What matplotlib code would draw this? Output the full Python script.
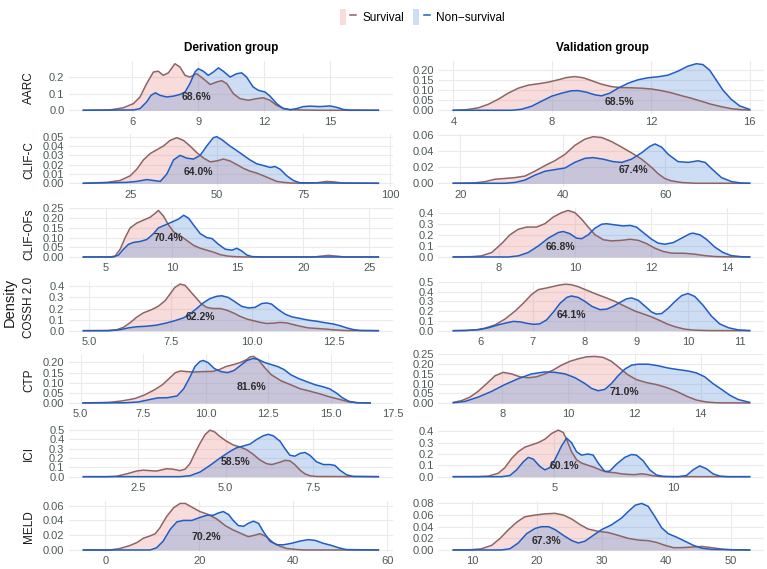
import matplotlib
matplotlib.use("Agg")
import matplotlib.pyplot as plt
from matplotlib.patches import Patch
from matplotlib.lines import Line2D
from matplotlib.legend_handler import HandlerTuple

plt.rcParams['font.family'] = ['Liberation Sans', 'DejaVu Sans']

# density curves: *_d_* = derivation group, *_v_* = validation group
# ---- AARC
aarc_d_surv_x = [3.77, 4.98, 5.59, 6.05, 6.35, 6.65, 6.96, 7.18, 7.41, 7.64, 7.94, 8.17, 8.4, 8.62, 8.93, 9.23, 9.54, 9.84, 10.07, 10.3, 10.6, 10.9, 11.28, 11.66, 11.96, 12.27, 12.57, 12.87, 13.18, 13.63, 14.5, 17.2]
aarc_d_surv_y = [0, 0.002, 0.015, 0.04, 0.08, 0.16, 0.23, 0.235, 0.21, 0.225, 0.28, 0.26, 0.21, 0.2, 0.22, 0.19, 0.155, 0.17, 0.178, 0.16, 0.1, 0.07, 0.06, 0.07, 0.075, 0.06, 0.03, 0.012, 0.004, 0.002, 0, 0]
aarc_d_non_x = [3.77, 6.05, 6.35, 6.65, 6.85, 7.05, 7.26, 7.56, 7.87, 8.17, 8.4, 8.62, 8.85, 9.0, 9.23, 9.46, 9.69, 9.92, 10.14, 10.45, 10.75, 10.98, 11.2, 11.5, 11.74, 12.04, 12.27, 12.57, 12.87, 13.18, 13.48, 13.78, 14.09, 14.54, 15.0, 15.3, 15.6, 15.9, 17.2]
aarc_d_non_y = [0, 0.002, 0.01, 0.05, 0.09, 0.105, 0.09, 0.08, 0.085, 0.095, 0.11, 0.16, 0.23, 0.25, 0.235, 0.21, 0.23, 0.255, 0.235, 0.2, 0.22, 0.225, 0.2, 0.14, 0.12, 0.11, 0.085, 0.04, 0.01, 0.003, 0.01, 0.022, 0.025, 0.022, 0.026, 0.018, 0.005, 0.001, 0]
aarc_v_surv_x = [4.0, 4.54, 5.01, 5.42, 5.82, 6.22, 6.63, 7.03, 7.44, 7.84, 8.25, 8.58, 8.92, 9.26, 9.59, 10.0, 10.4, 10.8, 11.21, 11.61, 12.02, 12.42, 12.83, 13.23, 13.64, 14.04, 14.44, 14.85, 15.25, 15.66, 16.0]
aarc_v_surv_y = [0, 0.003, 0.012, 0.03, 0.055, 0.085, 0.11, 0.125, 0.132, 0.14, 0.152, 0.163, 0.168, 0.162, 0.148, 0.13, 0.118, 0.113, 0.112, 0.11, 0.106, 0.098, 0.087, 0.073, 0.06, 0.045, 0.03, 0.018, 0.008, 0.003, 0.001]
aarc_v_non_x = [4.0, 6.36, 6.76, 7.17, 7.57, 7.98, 8.38, 8.78, 9.05, 9.39, 9.73, 10.0, 10.33, 10.67, 11.08, 11.48, 11.88, 12.29, 12.69, 13.1, 13.5, 13.84, 14.1, 14.38, 14.65, 14.92, 15.25, 15.59, 16.0]
aarc_v_non_y = [0, 0, 0.005, 0.02, 0.045, 0.07, 0.085, 0.097, 0.098, 0.09, 0.077, 0.072, 0.085, 0.11, 0.135, 0.152, 0.162, 0.167, 0.175, 0.195, 0.22, 0.232, 0.228, 0.2, 0.15, 0.1, 0.055, 0.022, 0.004]

# ---- CLIF-C
clifc_d_surv_x = [11.5, 18.3, 22.1, 25, 26.9, 28.8, 30.8, 32.7, 34.6, 36.5, 38.5, 40.4, 42.3, 44.2, 46.2, 48.1, 50, 51.9, 53.8, 55.8, 57.7, 59.6, 61.5, 63.5, 65.4, 67.3, 69.2, 71.2, 76, 78.8, 81.7, 83.7, 86.5, 96.6]
clifc_d_surv_y = [0, 0.001, 0.003, 0.008, 0.015, 0.025, 0.032, 0.036, 0.04, 0.046, 0.049, 0.046, 0.04, 0.033, 0.027, 0.023, 0.024, 0.026, 0.024, 0.02, 0.016, 0.013, 0.011, 0.008, 0.005, 0.002, 0.001, 0.0003, 0, 0.0005, 0.002, 0.0015, 0.0002, 0]
clifc_d_non_x = [11.5, 24, 26.9, 29.8, 31.7, 33.7, 35.6, 37.5, 39.4, 41.3, 43.3, 45.2, 47.1, 49, 50, 51.4, 53.8, 55.8, 57.7, 59.6, 61.5, 63.5, 65.4, 66.8, 68.3, 70.2, 72.1, 74, 96.6]
clifc_d_non_y = [0, 0.001, 0.002, 0.004, 0.003, 0.002, 0.01, 0.025, 0.03, 0.027, 0.026, 0.03, 0.04, 0.049, 0.05, 0.047, 0.04, 0.035, 0.03, 0.025, 0.021, 0.019, 0.017, 0.018, 0.015, 0.008, 0.003, 0.0005, 0]
clifc_v_surv_x = [18.6, 22.8, 24.8, 26.7, 28.7, 30.6, 32.6, 34.5, 36.5, 38.4, 40.4, 42.3, 44.3, 45.9, 47.6, 49.5, 51.5, 53.4, 55.4, 57.3, 58.6, 59.9, 61.2, 63.2, 65.8, 76.5]
clifc_v_surv_y = [0, 0.0005, 0.002, 0.005, 0.006, 0.007, 0.009, 0.015, 0.022, 0.028, 0.036, 0.047, 0.055, 0.058, 0.057, 0.052, 0.045, 0.038, 0.03, 0.02, 0.012, 0.006, 0.003, 0.001, 0, 0]
clifc_v_non_x = [18.6, 28.7, 30.6, 32.6, 34.5, 36.5, 38.4, 40.4, 42.3, 44.3, 45.9, 47.9, 49.8, 51.5, 53.4, 55.4, 57, 58, 59.3, 60.6, 62.5, 64.5, 66.4, 67.8, 69.1, 71, 73, 74.9, 76.5]
clifc_v_non_y = [0, 0, 0.001, 0.004, 0.01, 0.015, 0.017, 0.019, 0.026, 0.031, 0.032, 0.03, 0.027, 0.026, 0.03, 0.038, 0.046, 0.049, 0.045, 0.036, 0.027, 0.026, 0.028, 0.026, 0.018, 0.007, 0.002, 0.0003, 0]

# ---- CLIF-OFs
clifof_d_surv_x = [3.27, 5.3, 5.69, 6.07, 6.45, 6.83, 7.34, 7.84, 8.35, 8.73, 8.98, 9.37, 9.75, 10.13, 10.63, 11.14, 11.65, 12.16, 12.66, 13.17, 13.68, 14.19, 14.7, 15.46, 20.8, 21.3, 21.9, 22.6, 23.1, 25.7]
clifof_d_surv_y = [0, 0, 0.005, 0.04, 0.1, 0.15, 0.175, 0.19, 0.205, 0.225, 0.24, 0.21, 0.165, 0.13, 0.11, 0.085, 0.06, 0.045, 0.035, 0.025, 0.012, 0.005, 0.002, 0, 0, 0.004, 0.008, 0.004, 0, 0]
clifof_d_non_x = [3.27, 5.56, 5.94, 6.32, 6.7, 7.08, 7.59, 8.1, 8.6, 8.98, 9.49, 10.0, 10.5, 10.9, 11.27, 11.65, 12.16, 12.66, 13.05, 13.55, 14.06, 14.57, 14.95, 15.33, 15.7, 16.1, 16.8, 25.7]
clifof_d_non_y = [0, 0, 0.01, 0.04, 0.065, 0.075, 0.08, 0.09, 0.12, 0.15, 0.165, 0.18, 0.195, 0.215, 0.2, 0.165, 0.12, 0.1, 0.095, 0.065, 0.04, 0.035, 0.045, 0.03, 0.01, 0.002, 0, 0]
clifof_v_surv_x = [6.8, 7.28, 7.54, 7.81, 8.07, 8.29, 8.51, 8.73, 8.99, 9.21, 9.43, 9.65, 9.82, 10.0, 10.18, 10.35, 10.53, 10.75, 10.96, 11.23, 11.45, 11.67, 11.89, 12.1, 12.32, 12.54, 12.9, 13.16, 13.42, 13.68, 14.04, 14.6]
clifof_v_surv_y = [0, 0.003, 0.01, 0.04, 0.12, 0.2, 0.25, 0.27, 0.27, 0.3, 0.36, 0.4, 0.42, 0.4, 0.34, 0.27, 0.2, 0.155, 0.145, 0.15, 0.16, 0.15, 0.12, 0.08, 0.05, 0.035, 0.033, 0.025, 0.012, 0.004, 0.001, 0]
clifof_v_non_x = [6.8, 8.25, 8.51, 8.77, 9.04, 9.3, 9.56, 9.69, 9.87, 10.04, 10.18, 10.35, 10.53, 10.7, 10.83, 11.05, 11.27, 11.45, 11.62, 11.8, 12.02, 12.19, 12.37, 12.59, 12.81, 13.03, 13.11, 13.29, 13.46, 13.68, 13.9, 14.12, 14.39, 14.6]
clifof_v_non_y = [0, 0, 0.01, 0.04, 0.1, 0.17, 0.22, 0.23, 0.21, 0.17, 0.165, 0.2, 0.26, 0.295, 0.3, 0.29, 0.28, 0.285, 0.27, 0.22, 0.16, 0.125, 0.115, 0.13, 0.17, 0.21, 0.215, 0.2, 0.16, 0.09, 0.04, 0.012, 0.002, 0]

# ---- COSSH 2.0
cossh_d_surv_x = [4.82, 5.53, 5.84, 6.05, 6.25, 6.45, 6.66, 6.92, 7.12, 7.33, 7.48, 7.63, 7.79, 7.94, 8.09, 8.3, 8.45, 8.61, 8.81, 9.02, 9.22, 9.43, 9.63, 9.84, 10.04, 10.25, 10.45, 10.66, 10.86, 11.07, 11.27, 11.48, 11.73, 11.99, 12.24, 12.5, 12.8, 13.11, 13.88]
cossh_d_surv_y = [0, 0.001, 0.008, 0.03, 0.07, 0.12, 0.16, 0.19, 0.22, 0.27, 0.33, 0.39, 0.42, 0.41, 0.36, 0.29, 0.24, 0.21, 0.2, 0.2, 0.185, 0.16, 0.13, 0.105, 0.09, 0.075, 0.065, 0.068, 0.075, 0.07, 0.055, 0.04, 0.025, 0.02, 0.015, 0.008, 0.002, 0.0005, 0]
cossh_d_non_x = [4.82, 5.64, 5.94, 6.2, 6.45, 6.76, 7.07, 7.38, 7.63, 7.89, 8.09, 8.3, 8.5, 8.71, 8.91, 9.07, 9.27, 9.48, 9.68, 9.89, 10.09, 10.3, 10.45, 10.6, 10.81, 11.01, 11.22, 11.48, 11.73, 11.99, 12.24, 12.5, 12.7, 12.91, 13.11, 13.32, 13.88]
cossh_d_non_y = [0, 0, 0.008, 0.025, 0.035, 0.04, 0.05, 0.07, 0.09, 0.115, 0.15, 0.2, 0.25, 0.29, 0.31, 0.315, 0.3, 0.26, 0.22, 0.205, 0.21, 0.245, 0.25, 0.24, 0.19, 0.15, 0.125, 0.11, 0.095, 0.085, 0.072, 0.06, 0.045, 0.025, 0.01, 0.002, 0]
cossh_v_surv_x = [5.47, 5.73, 5.92, 6.08, 6.28, 6.47, 6.66, 6.82, 6.98, 7.11, 7.3, 7.5, 7.63, 7.75, 7.88, 8.04, 8.2, 8.4, 8.59, 8.78, 8.98, 9.17, 9.3, 9.43, 9.59, 9.75, 9.94, 10.13, 10.39, 11.19]
cossh_v_surv_y = [0, 0.003, 0.01, 0.025, 0.06, 0.12, 0.2, 0.28, 0.37, 0.42, 0.44, 0.465, 0.475, 0.47, 0.45, 0.415, 0.38, 0.34, 0.3, 0.25, 0.2, 0.165, 0.14, 0.11, 0.07, 0.04, 0.015, 0.005, 0.001, 0]
cossh_v_non_x = [5.47, 5.73, 5.96, 6.15, 6.34, 6.5, 6.63, 6.76, 6.89, 7.02, 7.14, 7.27, 7.4, 7.53, 7.66, 7.75, 7.88, 8.01, 8.14, 8.3, 8.43, 8.56, 8.69, 8.81, 8.91, 9.04, 9.17, 9.3, 9.39, 9.49, 9.62, 9.75, 9.88, 10.0, 10.13, 10.29, 10.45, 10.61, 10.78, 10.97, 11.19]
cossh_v_non_y = [0, 0.002, 0.01, 0.03, 0.06, 0.08, 0.095, 0.09, 0.075, 0.065, 0.07, 0.11, 0.19, 0.28, 0.34, 0.355, 0.34, 0.3, 0.25, 0.215, 0.22, 0.25, 0.29, 0.325, 0.335, 0.31, 0.25, 0.19, 0.17, 0.175, 0.23, 0.3, 0.36, 0.38, 0.35, 0.26, 0.15, 0.07, 0.03, 0.008, 0.001]

# ---- CTP
ctp_d_surv_x = [5.09, 6.13, 6.65, 7.17, 7.56, 7.95, 8.27, 8.53, 8.79, 8.99, 9.25, 9.51, 9.9, 10.29, 10.55, 10.81, 11.13, 11.39, 11.65, 11.78, 11.91, 12.1, 12.36, 12.62, 13.01, 13.4, 13.79, 14.18, 14.57, 14.96, 15.35, 15.74, 16.13, 16.58]
ctp_d_surv_y = [0, 0.003, 0.01, 0.022, 0.04, 0.065, 0.09, 0.12, 0.15, 0.158, 0.155, 0.153, 0.155, 0.156, 0.165, 0.18, 0.19, 0.2, 0.215, 0.228, 0.23, 0.215, 0.175, 0.14, 0.11, 0.09, 0.07, 0.058, 0.045, 0.03, 0.018, 0.005, 0.001, 0]
ctp_d_non_x = [5.09, 6.78, 7.3, 7.69, 8.08, 8.47, 8.86, 9.12, 9.38, 9.57, 9.77, 9.9, 10.09, 10.35, 10.61, 10.87, 11.13, 11.39, 11.65, 11.91, 12.1, 12.36, 12.62, 12.88, 13.14, 13.4, 13.73, 14.05, 14.38, 14.7, 14.96, 15.22, 15.48, 15.74, 16.06, 16.58]
ctp_d_non_y = [0, 0.001, 0.005, 0.015, 0.025, 0.026, 0.035, 0.07, 0.13, 0.18, 0.205, 0.21, 0.2, 0.17, 0.155, 0.15, 0.16, 0.185, 0.21, 0.22, 0.215, 0.2, 0.19, 0.18, 0.165, 0.14, 0.12, 0.105, 0.09, 0.08, 0.07, 0.05, 0.025, 0.008, 0.001, 0]
ctp_v_surv_x = [6.52, 6.77, 7.02, 7.27, 7.53, 7.78, 8.03, 8.28, 8.53, 8.79, 9.04, 9.29, 9.54, 9.79, 10.05, 10.3, 10.55, 10.8, 11.05, 11.3, 11.55, 11.8, 12.06, 12.36, 12.66, 12.96, 13.27, 13.57, 13.87, 14.17, 14.48, 15.48]
ctp_v_surv_y = [0.003, 0.012, 0.03, 0.06, 0.1, 0.14, 0.158, 0.15, 0.135, 0.13, 0.135, 0.15, 0.17, 0.195, 0.215, 0.228, 0.238, 0.24, 0.235, 0.215, 0.18, 0.145, 0.12, 0.105, 0.095, 0.08, 0.06, 0.035, 0.015, 0.005, 0.001, 0]
ctp_v_non_x = [6.52, 6.87, 7.27, 7.68, 8.08, 8.48, 8.89, 9.29, 9.59, 9.9, 10.2, 10.5, 10.7, 10.9, 11.1, 11.3, 11.5, 11.71, 11.91, 12.11, 12.41, 12.71, 13.02, 13.32, 13.62, 13.87, 14.12, 14.37, 14.63, 14.88, 15.13, 15.48]
ctp_v_non_y = [0.001, 0.008, 0.03, 0.06, 0.095, 0.125, 0.15, 0.16, 0.158, 0.15, 0.13, 0.1, 0.075, 0.063, 0.07, 0.1, 0.14, 0.175, 0.195, 0.2, 0.2, 0.192, 0.18, 0.172, 0.165, 0.155, 0.135, 0.1, 0.07, 0.04, 0.018, 0.003]

# ---- ICI
ici_d_surv_x = [0.93, 1.59, 1.88, 2.17, 2.45, 2.64, 2.83, 3.02, 3.31, 3.5, 3.69, 3.84, 3.98, 4.12, 4.27, 4.41, 4.55, 4.69, 4.84, 5.03, 5.22, 5.41, 5.6, 5.79, 5.98, 6.17, 6.32, 6.51, 6.7, 6.84, 6.98, 7.13, 7.27, 7.41, 7.6, 9.37]
ici_d_surv_y = [0, 0, 0.005, 0.03, 0.06, 0.07, 0.065, 0.06, 0.085, 0.08, 0.065, 0.08, 0.14, 0.25, 0.36, 0.45, 0.5, 0.48, 0.43, 0.38, 0.34, 0.32, 0.29, 0.24, 0.18, 0.14, 0.13, 0.15, 0.175, 0.17, 0.13, 0.07, 0.03, 0.01, 0.002, 0]
ici_d_non_x = [0.93, 3.69, 3.98, 4.27, 4.55, 4.84, 5.12, 5.31, 5.51, 5.7, 5.89, 6.08, 6.22, 6.36, 6.56, 6.7, 6.84, 6.98, 7.13, 7.27, 7.41, 7.6, 7.8, 7.99, 8.13, 8.27, 8.46, 8.65, 9.37]
ici_d_non_y = [0, 0, 0.01, 0.05, 0.12, 0.2, 0.27, 0.31, 0.33, 0.35, 0.4, 0.44, 0.455, 0.44, 0.38, 0.3, 0.23, 0.22, 0.25, 0.26, 0.23, 0.16, 0.13, 0.13, 0.12, 0.07, 0.02, 0.003, 0]
ici_v_surv_x = [0.76, 1.81, 2.23, 2.65, 2.93, 3.21, 3.49, 3.77, 4.05, 4.33, 4.61, 4.89, 5.17, 5.38, 5.52, 5.73, 5.94, 6.15, 6.43, 6.71, 6.99, 7.27, 7.55, 7.83, 8.11, 8.39, 8.67, 8.88, 9.16, 9.44, 9.93, 13.22]
ici_v_surv_y = [0, 0.001, 0.005, 0.03, 0.08, 0.16, 0.22, 0.26, 0.28, 0.3, 0.33, 0.38, 0.41, 0.39, 0.33, 0.22, 0.15, 0.12, 0.1, 0.08, 0.055, 0.04, 0.035, 0.025, 0.02, 0.018, 0.025, 0.02, 0.008, 0.002, 0, 0]
ici_v_non_x = [0.76, 2.79, 3.14, 3.42, 3.7, 3.91, 4.12, 4.4, 4.61, 4.82, 5.03, 5.31, 5.52, 5.73, 5.94, 6.15, 6.43, 6.64, 6.85, 7.13, 7.34, 7.62, 7.97, 8.25, 8.46, 8.74, 9.02, 9.3, 9.58, 10.21, 10.56, 10.84, 11.12, 11.4, 11.68, 11.96, 12.31, 13.22]
ici_v_non_y = [0, 0, 0.01, 0.06, 0.13, 0.17, 0.155, 0.09, 0.06, 0.08, 0.15, 0.27, 0.34, 0.3, 0.22, 0.19, 0.2, 0.19, 0.12, 0.045, 0.05, 0.11, 0.17, 0.195, 0.19, 0.14, 0.06, 0.015, 0.002, 0, 0.01, 0.06, 0.095, 0.07, 0.025, 0.005, 0, 0]

# ---- MELD
meld_d_surv_x = [-4.7, 1, 3.1, 5.2, 6.7, 8.1, 9.5, 10.6, 11.6, 13, 14.5, 15.9, 17, 18.4, 20.1, 21.9, 23.7, 25.5, 27.2, 29, 30.4, 31.8, 32.9, 34.3, 35.7, 37.2, 38.6, 40, 42.1, 58.1]
meld_d_surv_y = [0, 0, 0.002, 0.006, 0.01, 0.016, 0.019, 0.022, 0.03, 0.045, 0.057, 0.063, 0.063, 0.058, 0.052, 0.048, 0.042, 0.033, 0.027, 0.022, 0.018, 0.02, 0.022, 0.018, 0.01, 0.005, 0.002, 0.001, 0, 0]
meld_d_non_x = [-4.7, 9.5, 10.9, 12.3, 13.8, 15.2, 16.6, 18.4, 20.1, 21.6, 23, 24, 25.1, 26.2, 27.2, 28.3, 29.4, 30.4, 31.5, 32.6, 33.6, 35, 36.5, 37.9, 39.6, 41.4, 43.2, 44.6, 46.4, 48.2, 49.6, 51.3, 58.1]
meld_d_non_y = [0, 0, 0.003, 0.012, 0.028, 0.038, 0.04, 0.04, 0.044, 0.047, 0.047, 0.05, 0.052, 0.048, 0.04, 0.033, 0.032, 0.036, 0.039, 0.036, 0.025, 0.012, 0.007, 0.007, 0.009, 0.012, 0.014, 0.013, 0.009, 0.006, 0.003, 0.0005, 0]
meld_v_surv_x = [7.06, 9.9, 11.4, 13.0, 14.3, 15.6, 16.9, 18.1, 19.7, 21.2, 22.8, 24.1, 25.4, 26.6, 27.9, 29.5, 31.0, 32.6, 34.1, 35.7, 37.2, 38.5, 39.8, 41.1, 42.4, 43.9, 45.5, 47.0, 48.6, 50.1, 52.9]
meld_v_surv_y = [0, 0.0005, 0.002, 0.008, 0.02, 0.035, 0.048, 0.057, 0.06, 0.062, 0.063, 0.06, 0.053, 0.044, 0.036, 0.032, 0.03, 0.025, 0.02, 0.017, 0.016, 0.013, 0.008, 0.004, 0.004, 0.005, 0.006, 0.004, 0.0015, 0.0003, 0]
meld_v_non_x = [7.06, 14.5, 15.8, 17.1, 18.4, 19.7, 20.7, 21.8, 22.8, 24.1, 25.4, 26.4, 27.4, 28.7, 30.0, 31.5, 33.1, 34.1, 35.2, 36.2, 37.2, 38.2, 39.3, 40.3, 41.6, 42.9, 44.2, 45.5, 47.0, 52.9]
meld_v_non_y = [0, 0, 0.002, 0.012, 0.028, 0.037, 0.04, 0.04, 0.035, 0.025, 0.016, 0.012, 0.015, 0.025, 0.035, 0.043, 0.055, 0.066, 0.077, 0.08, 0.075, 0.058, 0.038, 0.028, 0.022, 0.015, 0.008, 0.003, 0.001, 0]

# labels, percentages and where they sit (data coords)
row_names = ["AARC", "CLIF-C", "CLIF-OFs", "COSSH 2.0", "CTP", "ICI", "MELD"]
pct_d = ["68.6%", "64.0%", "70.4%", "62.2%", "81.6%", "58.5%", "70.2%"]
pct_v = ["68.5%", "67.4%", "66.8%", "64.1%", "71.0%", "60.1%", "67.3%"]
pct_d_pos = [(8.93, 0.082), (44.7, 0.0123), (9.75, 0.097), (8.4, 0.119), (11.82, 0.079), (5.27, 0.158), (21.4, 0.018)]
pct_v_pos = [(10.74, 0.043), (53.7, 0.016), (9.62, 0.091), (7.75, 0.158), (11.7, 0.056), (5.45, 0.093), (21.5, 0.0146)]

xticks_d = [[6, 9, 12, 15], [25, 50, 75, 100], [5, 10, 15, 20, 25], [5.0, 7.5, 10.0, 12.5],
            [5.0, 7.5, 10.0, 12.5, 15.0, 17.5], [2.5, 5.0, 7.5], [0, 20, 40, 60]]
xdec_d = [0, 0, 0, 1, 1, 1, 0]
yticks_d = [[0, 0.1, 0.2], [0, 0.01, 0.02, 0.03, 0.04, 0.05], [0, 0.05, 0.10, 0.15, 0.20, 0.25],
            [0, 0.1, 0.2, 0.3, 0.4], [0, 0.05, 0.10, 0.15, 0.20], [0, 0.1, 0.2, 0.3, 0.4, 0.5],
            [0, 0.02, 0.04, 0.06]]
ydec_d = [1, 2, 2, 1, 2, 1, 2]
xticks_v = [[4, 8, 12, 16], [20, 40, 60], [8, 10, 12, 14], [6, 7, 8, 9, 10, 11],
            [8, 10, 12, 14], [5, 10], [10, 20, 30, 40, 50]]
yticks_v = [[0, 0.05, 0.10, 0.15, 0.20], [0, 0.02, 0.04, 0.06], [0, 0.1, 0.2, 0.3, 0.4],
            [0, 0.1, 0.2, 0.3, 0.4, 0.5], [0, 0.05, 0.10, 0.15, 0.20, 0.25],
            [0, 0.1, 0.2, 0.3, 0.4], [0, 0.02, 0.04, 0.06, 0.08]]
ydec_v = [2, 2, 1, 1, 2, 1, 2]

curves_d = [
    (aarc_d_surv_x, aarc_d_surv_y, aarc_d_non_x, aarc_d_non_y),
    (clifc_d_surv_x, clifc_d_surv_y, clifc_d_non_x, clifc_d_non_y),
    (clifof_d_surv_x, clifof_d_surv_y, clifof_d_non_x, clifof_d_non_y),
    (cossh_d_surv_x, cossh_d_surv_y, cossh_d_non_x, cossh_d_non_y),
    (ctp_d_surv_x, ctp_d_surv_y, ctp_d_non_x, ctp_d_non_y),
    (ici_d_surv_x, ici_d_surv_y, ici_d_non_x, ici_d_non_y),
    (meld_d_surv_x, meld_d_surv_y, meld_d_non_x, meld_d_non_y),
]
curves_v = [
    (aarc_v_surv_x, aarc_v_surv_y, aarc_v_non_x, aarc_v_non_y),
    (clifc_v_surv_x, clifc_v_surv_y, clifc_v_non_x, clifc_v_non_y),
    (clifof_v_surv_x, clifof_v_surv_y, clifof_v_non_x, clifof_v_non_y),
    (cossh_v_surv_x, cossh_v_surv_y, cossh_v_non_x, cossh_v_non_y),
    (ctp_v_surv_x, ctp_v_surv_y, ctp_v_non_x, ctp_v_non_y),
    (ici_v_surv_x, ici_v_surv_y, ici_v_non_x, ici_v_non_y),
    (meld_v_surv_x, meld_v_surv_y, meld_v_non_x, meld_v_non_y),
]

surv_fill, surv_line = "#E88A8A", "#8E6363"
non_fill, non_line = "#5B8FD9", "#1F5CC4"
tick_col = "#4D5858"

W, H = 767, 569
fig = plt.figure(figsize=(W / 100, H / 100), dpi=100)

baselines = [110.3, 183.3, 257.0, 330.7, 403.0, 476.7, 550.0]  # pixel row of y=0
panel_h = 51.2
cols = [(68.6, 324.5), (438.5, 326.0)]


def draw_panel(ax, curves, xt, xdec, yt, ydec, pct, pos):
    sx, sy, nx, ny = curves
    ax.fill_between(sx, sy, color=surv_fill, alpha=0.3, lw=0)
    ax.plot(sx, sy, color=surv_line, lw=1.1)
    ax.fill_between(nx, ny, color=non_fill, alpha=0.3, lw=0)
    ax.plot(nx, ny, color=non_line, lw=1.1)
    lo, hi = min(sx[0], nx[0]), max(sx[-1], nx[-1])
    ax.set_xlim(lo - 0.05 * (hi - lo), hi + 0.05 * (hi - lo))
    m = max(max(sy), max(ny))
    ax.set_ylim(-0.05 * m, 1.05 * m)
    ax.set_xticks(xt)
    ax.set_xticklabels([f"{v:.{xdec}f}" for v in xt])
    ax.set_yticks(yt)
    ax.set_yticklabels([f"{v:.{ydec}f}" for v in yt])
    ax.tick_params(length=0, labelsize=8, colors=tick_col, pad=3)
    ax.grid(color="#EBEBEB", lw=0.8)
    ax.set_axisbelow(True)
    for s in ax.spines.values():
        s.set_visible(False)
    ax.text(pos[0], pos[1], pct, ha="center", va="center", fontsize=7.5,
            fontweight="bold", color="#2B2B2B")


for i in range(7):
    bottom = 1 - (baselines[i] + 2.3) / H
    for c, (left, width) in enumerate(cols):
        ax = fig.add_axes([left / W, bottom, width / W, panel_h / H])
        if c == 0:
            draw_panel(ax, curves_d[i], xticks_d[i], xdec_d[i], yticks_d[i], ydec_d[i],
                       pct_d[i], pct_d_pos[i])
        else:
            draw_panel(ax, curves_v[i], xticks_v[i], 0, yticks_v[i], ydec_v[i],
                       pct_v[i], pct_v_pos[i])
    fig.text(29 / W, 1 - (baselines[i] - 23) / H, row_names[i], rotation=90,
             ha="center", va="center", fontsize=8.5, color="#1A1A1A")

fig.text(10 / W, 1 - 302 / H, "Density", rotation=90, ha="center", va="center",
         fontsize=10.5, color="#1A1A1A")
fig.text(231 / W, 1 - 48 / H, "Derivation group", ha="center", va="center",
         fontsize=8.5, fontweight="bold")
fig.text(602 / W, 1 - 48 / H, "Validation group", ha="center", va="center",
         fontsize=8.5, fontweight="bold")

handles = [
    (Patch(facecolor=surv_fill, alpha=0.3), Line2D([], [], color=surv_line, lw=1.1)),
    (Patch(facecolor=non_fill, alpha=0.3), Line2D([], [], color=non_line, lw=1.1)),
]
fig.legend(handles, ["Survival", "Non\u2212survival"], loc="center",
           bbox_to_anchor=(422 / W, 1 - 17 / H), ncol=2, frameon=False,
           handler_map={tuple: HandlerTuple(ndivide=None)}, fontsize=8.5,
           handlelength=1.4, handleheight=1.6, handletextpad=0.5, columnspacing=0.8)

fig.savefig("out.png", dpi=100)
